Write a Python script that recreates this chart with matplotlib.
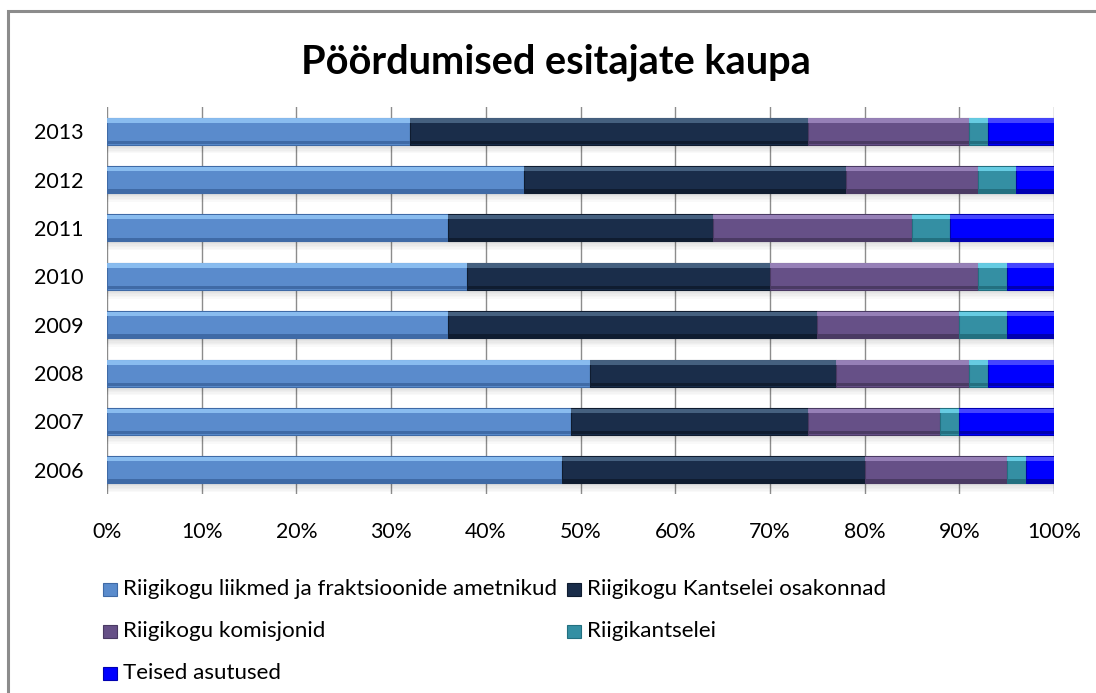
import numpy as np
import matplotlib
matplotlib.use("Agg")
import matplotlib.pyplot as plt
from matplotlib.patches import Rectangle

years = ["2006", "2007", "2008", "2009", "2010", "2011", "2012", "2013"]

series_names = [
    "Riigikogu liikmed ja fraktsioonide ametnikud",
    "Riigikogu Kantselei osakonnad",
    "Riigikogu komisjonid",
    "Riigikantselei",
    "Teised asutused",
]

liikmed = [48, 49, 51, 36, 38, 36, 44, 32]
kantselei = [32, 25, 26, 39, 32, 28, 34, 42]
komisjonid = [15, 14, 14, 15, 22, 21, 14, 17]
riigikantselei = [2, 2, 2, 5, 3, 4, 4, 2]
teised = [3, 10, 7, 5, 5, 11, 4, 7]

colors = ["#5a8bcc", "#1a2d4a", "#665087", "#348fa3", "#0000ff"]
highlights = ["#8fc2f4", "#4a6686", "#9c86bd", "#6cd3ea", "#4d4dff"]
shades = ["#3f6aa6", "#0f1c30", "#4a3a63", "#237080", "#0000b0"]

plt.rcParams["font.family"] = ["Lato", "DejaVu Sans"]

W, H = 1096, 693
fig = plt.figure(figsize=(W / 100, H / 100), dpi=100)
renderer = fig.canvas.get_renderer()


def fit_size(text, target_px, **kw):
    # font size that makes the text about target_px wide
    t = fig.text(0, 0, text, fontsize=10, **kw)
    w = t.get_window_extent(renderer).width
    t.remove()
    return 10 * target_px / w


ax = fig.add_axes([107 / W, 1 - 494 / H, 947 / W, 387 / H])

data = np.array([liikmed, kantselei, komisjonid, riigikantselei, teised], dtype=float)
data = data / data.sum(axis=0) * 100
y = np.arange(len(years))
h = 0.56

# soft shadow under the bars
total = data.sum(axis=0)
for k in range(6):
    ax.barh(y - h / 2 - 0.03 * k - 0.015, total, height=0.03, left=0,
            color="#000000", alpha=0.13 * (1 - k / 6), zorder=1, linewidth=0)

left = np.zeros(len(years))
for i, vals in enumerate(data):
    ax.barh(y, vals, height=h, left=left, color=colors[i], zorder=2,
            edgecolor=shades[i], linewidth=0.8)
    # bevel: light strip on top, dark strip at the bottom
    ax.barh(y + h / 2 - 0.06, vals, height=0.09, left=left, color=highlights[i],
            zorder=3, linewidth=0, alpha=0.9)
    ax.barh(y - h / 2 + 0.045, vals, height=0.07, left=left, color=shades[i],
            zorder=3, linewidth=0)
    left += vals

tick_fs = fit_size("100%", 54)
year_fs = fit_size("2013", 50)

ax.set_xlim(0, 100)
ax.set_ylim(-0.5, len(years) - 0.5)
ax.set_yticks(y)
ax.set_yticklabels(years, fontsize=year_fs)
ax.set_xticks(np.arange(0, 101, 10))
ax.set_xticklabels([f"{v}%" for v in range(0, 101, 10)], fontsize=tick_fs)
ax.tick_params(axis="x", length=0, pad=20)
ax.tick_params(axis="y", length=0, pad=17)
ax.xaxis.grid(True, color="#8c8c8c", linewidth=1)
ax.set_axisbelow(True)
for s in ax.spines.values():
    s.set_visible(False)

title = "Pöördumised esitajate kaupa"
title_fs = fit_size(title, 512, fontweight="bold")
fig.text(556 / W, 1 - 62 / H, title, ha="center", va="center",
         fontsize=title_fs, fontweight="bold")

# legend, laid out row by row like the original (two columns)
leg_fs = fit_size(series_names[0], 434)
leg_rows = [589, 631, 673]
leg_cols = [103, 567]
for i, name in enumerate(series_names):
    xm = leg_cols[i % 2]
    ym = leg_rows[i // 2]
    fig.patches.append(Rectangle((xm / W, 1 - (ym + 6.5) / H), 14 / W, 13 / H,
                                 transform=fig.transFigure, facecolor=colors[i],
                                 edgecolor=shades[i], linewidth=0.8))
    fig.text((xm + 20) / W, 1 - ym / H, name, ha="left", va="center",
             fontsize=leg_fs)

# outer chart frame
fig.patches.append(Rectangle((8 / W, -0.1), 1.2, 1 - 11 / H + 0.1,
                             transform=fig.transFigure, fill=False,
                             edgecolor="#8c8c8c", linewidth=2.2))

fig.savefig("out.png", dpi=100)
